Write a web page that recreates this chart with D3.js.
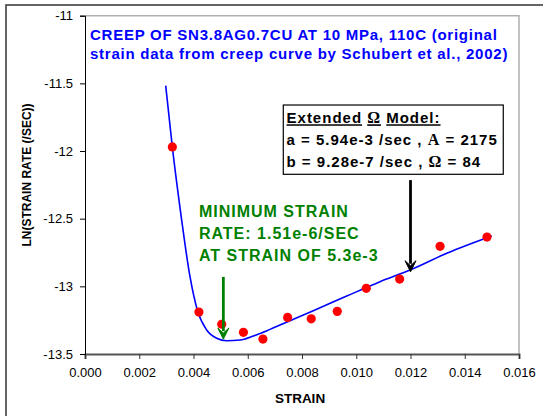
<!DOCTYPE html>
<html>
<head>
<meta charset="utf-8">
<script src="https://cdn.jsdelivr.net/npm/d3@7"></script>
<style>
  body { margin: 0; background: #fff; }
  svg { display: block; font-family: "Liberation Sans", Arial, sans-serif; }
</style>
</head>
<body>
<script>
// measured points (strain, ln strain rate)
const strainPts = [0.00322, 0.0042, 0.00504, 0.00584, 0.00656, 0.00747, 0.00834, 0.0093, 0.01037, 0.0116, 0.01309, 0.01482];
const lnRatePts = [-11.97, -13.19, -13.28, -13.34, -13.39, -13.23, -13.24, -13.185, -13.015, -12.946, -12.704, -12.636];

// model curve
const curveStrain = [0.002975, 0.003218, 0.003539, 0.003871, 0.00414, 0.004487, 0.004855, 0.005224, 0.005714, 0.006205, 0.00682, 0.007558, 0.008417, 0.009648, 0.010876, 0.011982, 0.013335, 0.014994];
const curveLnRate = [-11.517, -11.968, -12.473, -12.929, -13.175, -13.323, -13.384, -13.402, -13.397, -13.367, -13.318, -13.254, -13.18, -13.072, -12.966, -12.88, -12.756, -12.628];

const xTicks = [0, 0.002, 0.004, 0.006, 0.008, 0.01, 0.012, 0.014, 0.016];
const yTicks = [-11, -11.5, -12, -12.5, -13, -13.5];

const width = 543;
const height = 416;
const mLeft = 85, mRight = 519, mTop = 15.7, mBottom = 354;

const svg = d3.select("body").append("svg")
  .attr("width", width)
  .attr("height", height);

// outer chart frame
svg.append("rect")
  .attr("x", 6).attr("y", 5)
  .attr("width", 600).attr("height", 500)
  .attr("fill", "none")
  .attr("stroke", "#333")
  .attr("stroke-width", 1.5);

const x = d3.scaleLinear().domain([0, 0.016]).range([mLeft, mRight]);
const y = d3.scaleLinear().domain([-13.5, -11]).range([mBottom, mTop]);

// plot border (top + right)
svg.append("path")
  .attr("d", `M${x(0)},${y(-11)}H${x(0.016)}V${y(-13.5)}`)
  .attr("fill", "none")
  .attr("stroke", "#b0b0b0")
  .attr("stroke-width", 1.5);

const xAxis = svg.append("g")
  .attr("transform", `translate(0,${mBottom})`)
  .call(d3.axisBottom(x).tickValues(xTicks).tickFormat(d3.format(".3f")).tickSize(5).tickPadding(9));
xAxis.select(".domain").attr("stroke", "#555").attr("stroke-width", 2);
xAxis.selectAll(".tick line").attr("stroke", "#333");
xAxis.selectAll("text").attr("font-size", 13).attr("font-family", "Liberation Sans, Arial").attr("fill", "#000");

const yAxis = svg.append("g")
  .attr("transform", `translate(${mLeft},0)`)
  .call(d3.axisLeft(y).tickValues(yTicks).tickFormat(d => String(d)).tickSize(5).tickPadding(7));
yAxis.select(".domain").attr("stroke", "#000");
yAxis.selectAll("text").attr("font-size", 13).attr("font-family", "Liberation Sans, Arial").attr("fill", "#000");

// axis titles
svg.append("text")
  .attr("x", (mLeft + mRight) / 2 - 2)
  .attr("y", 403)
  .attr("text-anchor", "middle")
  .attr("font-size", 13.5)
  .attr("font-weight", "bold")
  .text("STRAIN");

svg.append("text")
  .attr("transform", `translate(31,${175}) rotate(-90)`)
  .attr("text-anchor", "middle")
  .attr("font-size", 12)
  .attr("font-weight", "bold")
  .text("LN(STRAIN RATE (/SEC))");

// model curve
const line = d3.line()
  .x(i => x(curveStrain[i]))
  .y(i => y(curveLnRate[i]))
  .curve(d3.curveMonotoneX);

svg.append("path")
  .attr("d", line(d3.range(curveStrain.length)))
  .attr("fill", "none")
  .attr("stroke", "#0000ff")
  .attr("stroke-width", 1.6);

// data points
svg.append("g")
  .selectAll("circle")
  .data(d3.range(strainPts.length))
  .join("circle")
  .attr("cx", i => x(strainPts[i]))
  .attr("cy", i => y(lnRatePts[i]))
  .attr("r", 4.6)
  .attr("fill", "#ff0000");

// title
const title = svg.append("text")
  .attr("font-size", 15)
  .attr("font-weight", "bold")
  .attr("letter-spacing", 0.75)
  .attr("fill", "#0000ff");
title.append("tspan").attr("x", x(0.000184)).attr("y", y(-11.176))
  .text("CREEP OF SN3.8AG0.7CU AT 10 MPa, 110C (original");
title.append("tspan").attr("x", x(0.000184)).attr("y", y(-11.32))
  .text("strain data from creep curve by Schubert et al., 2002)");

// model box
svg.append("rect")
  .attr("x", x(0.00731)).attr("y", y(-11.66))
  .attr("width", x(0.01542) - x(0.00731))
  .attr("height", y(-12.172) - y(-11.66))
  .attr("fill", "#fff")
  .attr("stroke", "#000")
  .attr("stroke-width", 1.2);

const box = svg.append("text")
  .attr("font-size", 15)
  .attr("font-weight", "bold")
  .attr("letter-spacing", 1)
  .attr("fill", "#000");
const l1 = box.append("tspan").attr("x", x(0.00743)).attr("y", y(-11.795));
l1.append("tspan").attr("text-decoration", "underline").text("Extended");
l1.append("tspan").text(" ");
l1.append("tspan").attr("text-decoration", "underline").attr("font-family", "Liberation Serif, serif").attr("font-size", 16).text("Ω");
l1.append("tspan").text(" ");
l1.append("tspan").attr("text-decoration", "underline").text("Model:");
const l2 = box.append("tspan").attr("x", x(0.00743)).attr("y", y(-11.956));
l2.append("tspan").text("a = 5.94e-3 /sec , ");
l2.append("tspan").attr("font-family", "Liberation Serif, serif").attr("font-size", 16).text("Α");
l2.append("tspan").text(" = 2175");
const l3 = box.append("tspan").attr("x", x(0.00743)).attr("y", y(-12.116));
l3.append("tspan").text("b = 9.28e-7 /sec , ");
l3.append("tspan").attr("font-family", "Liberation Serif, serif").attr("font-size", 16).text("Ω");
l3.append("tspan").text(" = 84");

// arrows
function arrow(xv, y0, y1, color) {
  const px = x(xv), start = y(y0), tip = y(y1);
  svg.append("line")
    .attr("x1", px).attr("x2", px)
    .attr("y1", start).attr("y2", tip - 8)
    .attr("stroke", color)
    .attr("stroke-width", 2.8);
  svg.append("path")
    .attr("d", `M${px - 5.5},${tip - 11}L${px},${tip}L${px + 5.5},${tip - 11}L${px},${tip - 6}Z`)
    .attr("fill", color)
    .attr("stroke", color)
    .attr("stroke-width", 1);
}
arrow(0.012, -12.215, -12.892, "#000");
arrow(0.0051, -12.93, -13.39, "#008000");

// min strain rate note
const note = svg.append("text")
  .attr("font-size", 16)
  .attr("font-weight", "bold")
  .attr("letter-spacing", 1)
  .attr("fill", "#008000");
[["MINIMUM STRAIN", -12.49], ["RATE: 1.51e-6/SEC", -12.653], ["AT STRAIN OF 5.3e-3", -12.813]]
  .forEach(([t, v]) => note.append("tspan").attr("x", x(0.0042)).attr("y", y(v)).text(t));
</script>
</body>
</html>
